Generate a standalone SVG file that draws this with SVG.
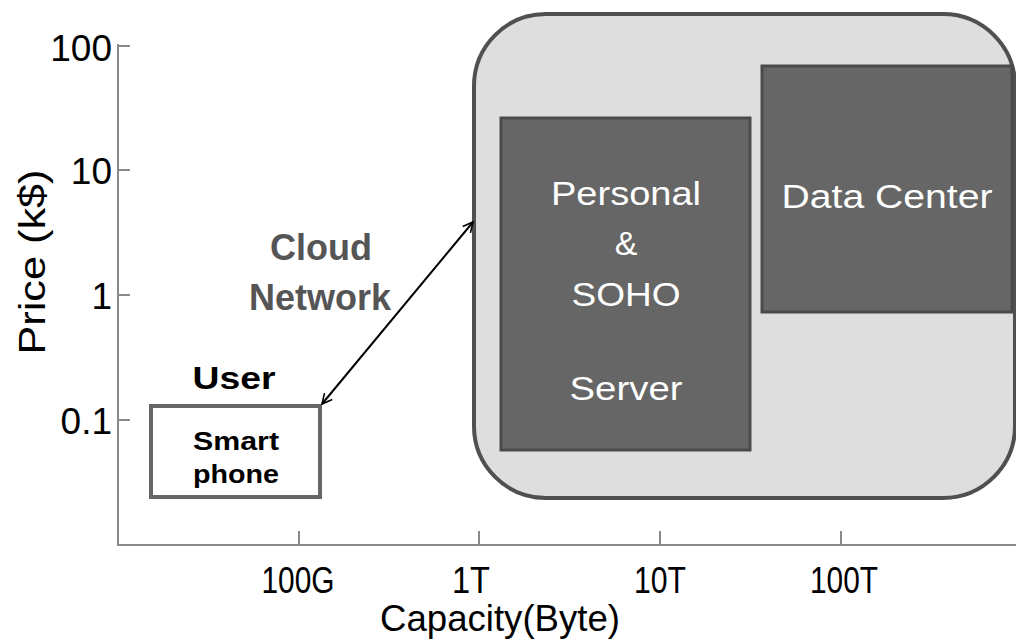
<svg xmlns="http://www.w3.org/2000/svg" width="1016" height="642" viewBox="0 0 1016 642">
<style>
text{font-family:"Liberation Sans",Arial,sans-serif}
.ax{stroke:#8a8a8a;stroke-width:2;fill:none}
.yl{font-size:37px;fill:#000;text-anchor:end}
.xl{font-size:37px;fill:#000;text-anchor:middle}
.inner{fill:#666;stroke:#4a4a4a;stroke-width:3}
.wt{font-size:34px;fill:#fff;text-anchor:middle}
.cn{font-size:36px;fill:#555;font-weight:bold;text-anchor:middle}
.bk{font-weight:bold;fill:#000;text-anchor:middle}
</style>
<defs>
<marker id="ah" viewBox="0 0 12 12" refX="11" refY="6" markerWidth="12" markerHeight="12" markerUnits="userSpaceOnUse" orient="auto-start-reverse">
<path d="M1,1 L11,6 L1,11" fill="none" stroke="#000" stroke-width="1.6"/>
</marker>
</defs>
<g id="axes">
<path class="ax" d="M118,44 V545 H1016"/>
<path class="ax" d="M118,46 H130 M118,170 H130 M118,295 H130 M118,420 H130"/>
<path class="ax" d="M299,545 V531 M479,545 V531 M660,545 V531 M841,545 V531"/>
<text class="yl" x="112" y="61">100</text>
<text class="yl" x="112" y="184">10</text>
<text class="yl" x="112" y="309">1</text>
<text class="yl" x="112" y="434">0.1</text>
<text class="xl" x="298" y="593" textLength="73" lengthAdjust="spacingAndGlyphs">100G</text>
<text class="xl" x="471" y="593" textLength="38" lengthAdjust="spacingAndGlyphs">1T</text>
<text class="xl" x="660" y="593" textLength="52" lengthAdjust="spacingAndGlyphs">10T</text>
<text class="xl" x="844" y="593" textLength="68" lengthAdjust="spacingAndGlyphs">100T</text>
<text class="xl" x="500" y="631" textLength="240" lengthAdjust="spacingAndGlyphs">Capacity(Byte)</text>
<text class="xl" transform="translate(45,262) rotate(-90)" font-size="40" textLength="185" lengthAdjust="spacingAndGlyphs">Price (k$)</text>
</g>
<g id="cloud">
<rect x="474" y="14" width="541" height="484" rx="72" ry="72" fill="#dedede" stroke="#505050" stroke-width="4"/>
</g>
<g id="personal">
<rect class="inner" x="501" y="118" width="249" height="332"/>
<text class="wt" x="626" y="205" textLength="150" lengthAdjust="spacingAndGlyphs">Personal</text>
<text class="wt" x="626" y="255">&amp;</text>
<text class="wt" x="626" y="306" textLength="109" lengthAdjust="spacingAndGlyphs">SOHO</text>
<text class="wt" x="626" y="400" textLength="113" lengthAdjust="spacingAndGlyphs">Server</text>
</g>
<g id="datacenter">
<rect class="inner" x="762" y="66" width="250" height="246"/>
<text class="wt" x="887" y="208" textLength="211" lengthAdjust="spacingAndGlyphs">Data Center</text>
</g>
<g id="user">
<text class="bk" x="234" y="389" font-size="32" textLength="83" lengthAdjust="spacingAndGlyphs">User</text>
<rect x="151" y="406" width="169" height="91" fill="#fff" stroke="#666" stroke-width="4"/>
<text class="bk" x="236" y="450" font-size="25" textLength="86" lengthAdjust="spacingAndGlyphs">Smart</text>
<text class="bk" x="236" y="483" font-size="25" textLength="86" lengthAdjust="spacingAndGlyphs">phone</text>
</g>
<g id="connectors">
<line x1="322" y1="404" x2="473" y2="222" stroke="#000" stroke-width="2" marker-start="url(#ah)" marker-end="url(#ah)"/>
</g>
<g id="label">
<text class="cn" x="321" y="260">Cloud</text>
<text class="cn" x="320" y="310">Network</text>
</g>
</svg>
